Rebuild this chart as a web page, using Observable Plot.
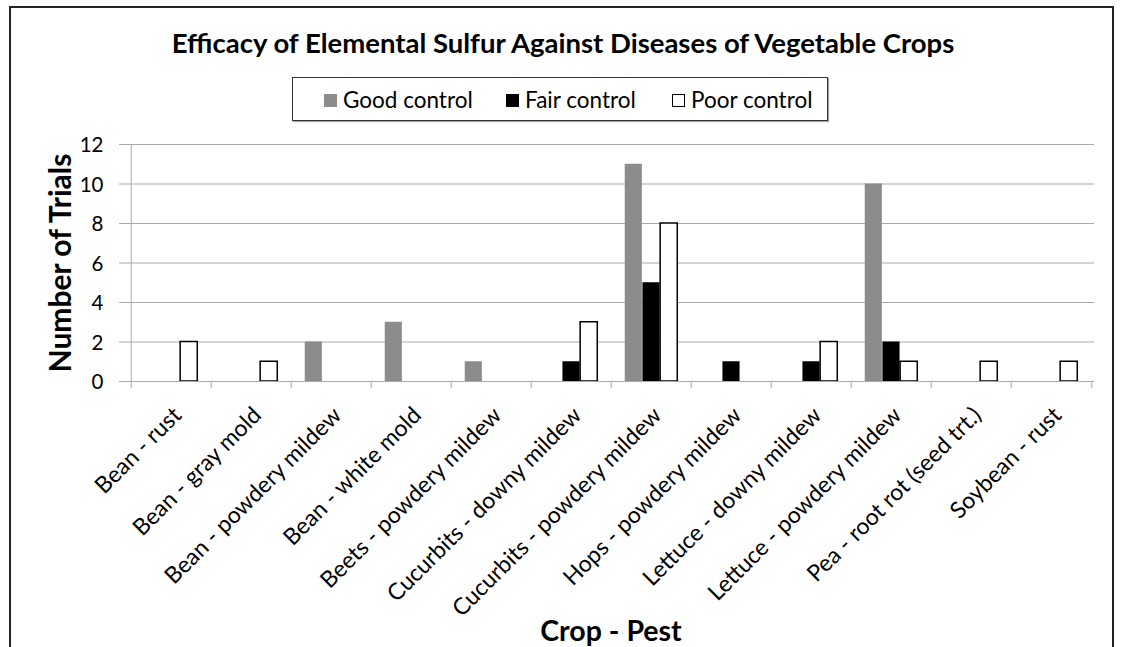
<!DOCTYPE html>
<html>
<head>
<meta charset="utf-8">
<script src="https://cdn.jsdelivr.net/npm/d3@7"></script>
<script src="https://cdn.jsdelivr.net/npm/@observablehq/plot@0.6"></script>
<style>
  html, body { margin: 0; padding: 0; background: #fff; }
  #wrap { position: relative; width: 1122px; height: 647px; overflow: hidden; font-family: Lato, "Open Sans", sans-serif; }
  #frame { position: absolute; left: 9px; top: 6px; width: 1105px; height: 700px; border: 2px solid #222; box-sizing: border-box; }
  #title { position: absolute; left: 0; width: 1126px; top: 29px; line-height: 27.5px; text-align: center; font-weight: bold; font-size: 27.5px; color: #000; white-space: nowrap; }
  #legend { position: absolute; left: 292px; top: 77px; width: 536px; height: 44px; border: 1px solid #333; box-sizing: border-box; box-shadow: 1px 1px 1px rgba(0,0,0,0.35); }
  .item { position: absolute; top: 0; height: 42px; display: flex; align-items: center; font-size: 22.5px; line-height: 27px; color: #000; white-space: nowrap; }
  .sw { width: 13px; height: 13px; margin-right: 6px; box-sizing: border-box; margin-top: 3px; }
  #chart { position: absolute; left: 0; top: 120px; }
</style>
</head>
<body>
<div id="wrap">
  <div id="frame"></div>
  <div id="title"></div>
  <div id="legend"></div>
  <div id="chart"></div>
</div>
<script>
const categories = [
  "Bean - rust",
  "Bean - gray mold",
  "Bean - powdery mildew",
  "Bean - white mold",
  "Beets - powdery mildew",
  "Cucurbits - downy mildew",
  "Cucurbits - powdery mildew",
  "Hops - powdery mildew",
  "Lettuce - downy mildew",
  "Lettuce - powdery mildew",
  "Pea - root rot (seed trt.)",
  "Soybean - rust"
];
const seriesNames = ["Good control", "Fair control", "Poor control"];
const goodControl = [0, 0, 2, 3, 1, 0, 11, 0, 0, 10, 0, 0];
const fairControl = [0, 0, 0, 0, 0, 1, 5, 1, 1, 2, 0, 0];
const poorControl = [2, 1, 0, 0, 0, 3, 8, 0, 2, 1, 1, 1];
const yTicks = [0, 2, 4, 6, 8, 10, 12];
const titleText = "Efficacy of Elemental Sulfur Against Diseases of Vegetable Crops";
const xTitle = "Crop - Pest";
const yTitle = "Number of Trials";

const seriesValues = [goodControl, fairControl, poorControl];
const fills = ["#8c8c8c", "#000000", "#ffffff"];
const strokes = ["none", "none", "#000000"];

document.getElementById("title").textContent = titleText;

// legend
const legend = document.getElementById("legend");
const legendLeft = [31, 213, 379];
seriesNames.forEach((name, i) => {
  const it = document.createElement("div");
  it.className = "item";
  it.style.left = legendLeft[i] + "px";
  const sw = document.createElement("span");
  sw.className = "sw";
  sw.style.background = fills[i];
  if (i === 2) { sw.style.border = "1px solid #000"; }
  it.appendChild(sw);
  it.appendChild(document.createTextNode(name));
  legend.appendChild(it);
});

const width = 1122, height = 527;
const marginLeft = 127, marginRight = 28, marginTop = 24, marginBottom = 266;
const bw = (width - marginLeft - marginRight) / categories.length;
const barW = 17.7;
const inset = (bw - barW) / 2;

const rows = seriesNames.map((s, si) =>
  categories.map((c, ci) => ({category: c, series: s, value: seriesValues[si][ci]})).filter(d => d.value > 0)
);

const gridColor = "#aaaaaa";

const marks = [
  Plot.ruleY(yTicks.filter(t => t > 0), {stroke: gridColor, strokeWidth: 1}),
  ...rows.map((data, si) => Plot.barY(data, {
    x: "category",
    y: "value",
    fill: fills[si],
    stroke: strokes[si],
    strokeWidth: si === 2 ? 1.5 : 0,
    insetLeft: inset,
    insetRight: inset,
    dx: (si - 1) * barW,
    style: si === 0 ? "filter: drop-shadow(1.5px 1px 1.2px rgba(0,0,0,0.35))" : undefined
  })),
  Plot.ruleY([0], {stroke: gridColor, strokeWidth: 1}),
  Plot.ruleX([categories[0]], {dx: -bw / 2, y1: 0, y2: 12, stroke: gridColor}),
  Plot.ruleX(categories, {dx: -bw / 2, y1: 0, y2: 0, insetBottom: -7, stroke: gridColor}),
  Plot.ruleX([categories[categories.length - 1]], {dx: bw / 2, y1: 0, y2: 0, insetBottom: -7, stroke: gridColor}),
  Plot.axisY({ticks: yTicks, tickSize: 8, tickFormat: () => "", stroke: gridColor, label: null}),
  Plot.text(yTicks, {y: d => d, frameAnchor: "left", textAnchor: "end", lineAnchor: "middle", dx: -24, dy: 1, fontSize: 20.5, fill: "#000"}),
  Plot.text(categories, {x: d => d, frameAnchor: "bottom", rotate: -45, textAnchor: "end", lineAnchor: "middle", dx: 6, dy: 30, fontSize: 23, fill: "#000"}),
  Plot.text([yTitle], {frameAnchor: "left", textAnchor: "middle", lineAnchor: "middle", dx: -66.6, rotate: -90, fontSize: 30, fontWeight: "bold", fill: "#000"}),
  Plot.text([xTitle], {frameAnchor: "bottom", textAnchor: "middle", lineAnchor: "middle", dy: 250, fontSize: 28.5, fontWeight: "bold", fill: "#000"})
];

const chart = Plot.plot({
  width, height, marginLeft, marginRight, marginTop, marginBottom,
  style: {fontFamily: "Lato, 'Open Sans', sans-serif", background: "transparent", overflow: "visible"},
  x: {type: "band", domain: categories, padding: 0, axis: null},
  y: {domain: [0, 12], ticks: yTicks, axis: null},
  marks
});
document.getElementById("chart").appendChild(chart);
</script>
</body>
</html>
